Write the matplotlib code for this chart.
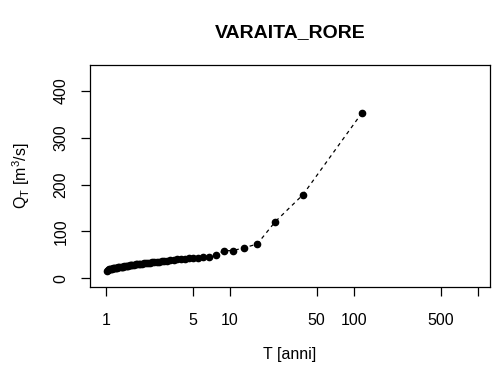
import matplotlib
matplotlib.use("Agg")
import matplotlib.pyplot as plt

plt.rcParams['font.family'] = ['Liberation Sans', 'DejaVu Sans']
plt.rcParams['mathtext.fontset'] = 'custom'
plt.rcParams['mathtext.rm'] = 'Liberation Sans'
plt.rcParams['mathtext.it'] = 'Liberation Sans'

title = "VARAITA_RORE"
xlabel = "T [anni]"
ylabel = r"$\mathregular{Q_T}$ [m$^\mathregular{3}$/s]"

T_years = [116.0, 38.67, 23.2, 16.57, 12.89, 10.55, 8.92, 7.73, 6.82, 6.11,
           5.52, 5.04, 4.64, 4.30, 4.00, 3.74, 3.52, 3.31, 3.12, 2.96,
           2.82, 2.68, 2.56, 2.45, 2.35, 2.25, 2.17, 2.09, 2.02, 1.95,
           1.89, 1.83, 1.78, 1.73, 1.68, 1.63, 1.59, 1.55, 1.51, 1.47,
           1.44, 1.40, 1.37, 1.34, 1.31, 1.28, 1.25, 1.23, 1.20, 1.18,
           1.15, 1.13, 1.11, 1.09, 1.07, 1.05, 1.03, 1.01]
Q_values = [353, 178, 121, 73, 65, 59, 59, 50, 46, 45,
            44, 43.5, 43, 42, 41, 40.5, 39.5, 38.5, 38, 37,
            36, 35.5, 35, 34.5, 34, 33.5, 33, 32.5, 32, 31.5,
            31, 30.5, 30, 29.5, 29, 28.5, 28, 27.5, 27, 26.5,
            26, 25.5, 25, 25, 24.5, 24, 23.5, 23, 22.5, 22,
            21.5, 21, 20.5, 20, 19.5, 19, 18, 16]

x_ticks = [1, 5, 10, 50, 100, 500, 1000]
x_ticklabels = ["1", "5", "10", "50", "100", "500", ""]
y_ticks = [0, 100, 200, 300, 400]

W, H = 492, 374
fig = plt.figure(figsize=(W / 100, H / 100), dpi=100)
ax = fig.add_axes([90 / W, 1 - 287 / H, 400 / W, (287 - 65) / H])

ax.plot(T_years, Q_values, color='black', linestyle=(0, (3, 3)), linewidth=0.9,
        marker='o', markersize=4.5, markerfacecolor='black', markeredgecolor='black')

ax.set_xscale('log')
ax.set_xlim(0.743, 1250)
ax.set_ylim(-18.5, 455)
ax.minorticks_off()
ax.set_xticks(x_ticks)
ax.set_xticklabels(x_ticklabels)
ax.set_yticks(y_ticks)
ax.set_yticklabels([str(v) for v in y_ticks], rotation=90, va='center')

ax.tick_params(axis='both', direction='out', length=6.5, width=0.9, labelsize=11.5,
               colors='black')
ax.tick_params(axis='x', pad=12)
ax.tick_params(axis='y', pad=9)
for s in ax.spines.values():
    s.set_linewidth(0.9)
    s.set_color('black')

fig.text(290 / W, 1 - 33 / H, title, ha='center', va='center', fontsize=14,
         fontweight='bold')
fig.text(290 / W, 1 - 355 / H, xlabel, ha='center', va='center', fontsize=11.5)
fig.text(21 / W, 1 - 176 / H, ylabel, ha='center', va='center', fontsize=11.5,
         rotation=90)

fig.savefig("out.png", dpi=100)
